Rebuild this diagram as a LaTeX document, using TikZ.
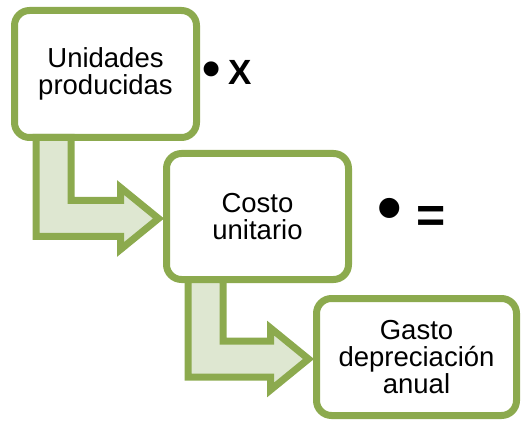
\documentclass[tikz,border=0pt]{standalone}
\usepackage{fontspec}
\setmainfont{Liberation Sans}
\usepackage{tikz}
\usetikzlibrary{calc}
\usetikzlibrary{shadows}

\definecolor{boxgreen}{RGB}{140,170,78}
\definecolor{arrowfill}{RGB}{222,231,209}

\begin{document}
\begin{tikzpicture}[
                x=1pt, y=-1pt,
                box/.style = {
                    draw=boxgreen,
                    fill=white,
                    line width = 7pt,
                    rounded corners = 15pt,
                    align = center,
                    inner sep = 0pt,
                    outer sep = 0pt,
                    font = \fontsize{27.5}{27}\selectfont,
                    execute at begin node = \rule{0pt}{26pt},
                    drop shadow = {opacity=0.25, shadow xshift=2pt, shadow yshift=-2pt}
                },
                bent/.style = {
                    draw=boxgreen,
                    fill=arrowfill,
                    line width = 7pt,
                    line join = miter,
                    drop shadow = {opacity=0.25, shadow xshift=2pt, shadow yshift=-2pt}
                },
                sign/.style = {
                    inner sep = 0pt,
                    font = \fontsize{#1}{#1}\selectfont\bfseries
                },
                sign/.default = 30
            ]
            \useasboundingbox (0,0) rectangle (521,427);
            % 
            \node[box, minimum width=182pt, minimum height=127pt] (1) at (105.5,74) {Unidades\\producidas};
            \node[box, minimum width=182pt, minimum height=126pt] (2) at (257.5,216.5) {Costo\\unitario};
            \node[box, minimum width=200pt, minimum height=117pt] (3) at (416.5,357) {Gasto\\depreciación\\anual};
            % 
            \node[sign=52] (dot1) at (212,74) {•};
            \node[sign=35] (times) at (240,72.5) {X};
            \node[sign=70] (dot2) at (389.5,214.5) {•};
            \node[sign=50] (equals) at (431,219.5) {=};
            % 
            \draw[bent] let \p1 = (1.south west), \p2 = ($(2.west)+(-8,2)$) in
                (\x1+21.5pt,\y1) -- (\x1+21.5pt,\y2-18pt) -- (\x2-38pt,\y2-18pt) -- (\x2-38pt,\y2-31pt)
                -- (\p2) -- (\x2-38pt,\y2+31pt) -- (\x2-38pt,\y2+18pt) -- (\x1+56.5pt,\y2+18pt)
                -- (\x1+56.5pt,\y1) -- cycle;
            \draw[bent] let \p1 = (2.south west), \p2 = ($(3.west)+(-8,2)$) in
                (\x1+21.5pt,\y1) -- (\x1+21.5pt,\y2-18pt) -- (\x2-38pt,\y2-18pt) -- (\x2-38pt,\y2-31pt)
                -- (\p2) -- (\x2-38pt,\y2+31pt) -- (\x2-38pt,\y2+18pt) -- (\x1+56.5pt,\y2+18pt)
                -- (\x1+56.5pt,\y1) -- cycle;
            % 
        \end{tikzpicture}
\end{document}
